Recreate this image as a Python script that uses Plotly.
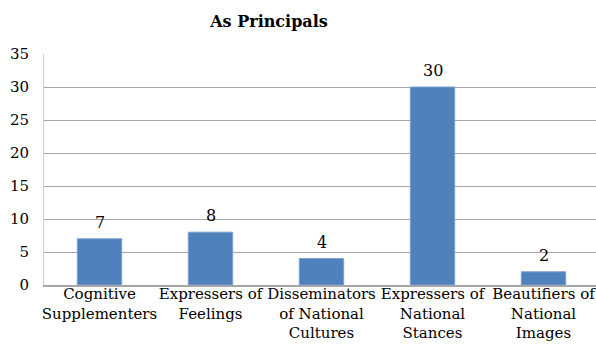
import plotly.graph_objects as go

# Category labels (line breaks as in the chart)
categories = [
    "Cognitive<br>Supplementers",
    "Expressers of<br>Feelings",
    "Disseminators<br>of National<br>Cultures",
    "Expressers of<br>National<br>Stances",
    "Beautifiers of<br>National<br>Images",
]
counts = [7, 8, 4, 30, 2]
y_ticks = [0, 5, 10, 15, 20, 25, 30, 35]

FONT = "DejaVu Serif"
positions = list(range(len(categories)))

fig = go.Figure(
    go.Bar(
        x=positions,
        y=counts,
        marker=dict(color="#4f81bd", line=dict(color="#7a9fcf", width=1)),
        hoverinfo="skip",
    )
)

# value labels above each bar
for xi, v in zip(positions, counts):
    fig.add_annotation(
        x=xi, y=v, text=str(v), showarrow=False,
        yanchor="bottom", yshift=5,
        font=dict(family=FONT, size=16, color="#000000"),
    )

fig.update_layout(
    width=596,
    height=354,
    margin=dict(l=44, r=0, t=54, b=69),
    paper_bgcolor="white",
    plot_bgcolor="white",
    bargap=0.6,
    showlegend=False,
    title=dict(
        text="<b>As Principals</b>",
        x=269 / 596,
        xanchor="center",
        xref="container",
        y=1 - 21 / 354,
        yanchor="middle",
        yref="container",
        font=dict(family=FONT, size=16, color="#000000"),
    ),
    font=dict(family=FONT, size=16, color="#000000"),
)

fig.update_xaxes(
    tickmode="array",
    tickvals=positions,
    ticktext=categories,
    range=[-0.5, 4.473],
    showgrid=False,
    showline=True,
    linecolor="#a6a6a6",
    linewidth=2,
    ticks="",
    automargin=False,
    ticklabeloverflow="allow",
    ticklabelstandoff=-6,
    tickfont=dict(family=FONT, size=15, color="#000000"),
    tickangle=0,
)

fig.update_yaxes(
    range=[0, 35],
    tickvals=y_ticks,
    showgrid=True,
    gridcolor="#a6a6a6",
    gridwidth=1,
    showline=True,
    linecolor="#d0d0d0",
    linewidth=1,
    zeroline=False,
    ticks="",
    automargin=False,
    ticklabelstandoff=11,
    tickfont=dict(family=FONT, size=15, color="#000000"),
)

fig.write_html("out.html")
